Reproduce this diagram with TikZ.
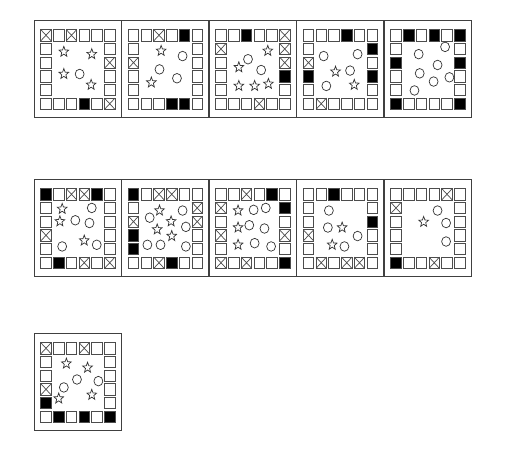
\documentclass[tikz,border=0pt]{standalone}
\tikzset{
  boardframe/.style={draw=black!75,line width=1pt},
  boxcell/.style={draw=black!70,line width=0.7pt},
  figline/.style={draw=black!80,line width=0.7pt,fill=white},
}
\newcommand{\board}{%
  \draw[boardframe] (0,0) rectangle (6.86,7.08);
  \foreach \i in {0,...,5} {
    \draw[boxcell] (\i+0.53,0.63) rectangle ++(0.82,0.82);
    \draw[boxcell] (\i+0.53,5.63) rectangle ++(0.82,0.82);
  }
  \foreach \j in {1,...,4} {
    \draw[boxcell] (0.53,\j+0.63) rectangle ++(0.82,0.82);
    \draw[boxcell] (5.53,\j+0.63) rectangle ++(0.82,0.82);
  }
}
\newcommand{\xcell}[2]{\draw[boxcell] (#1+0.53,#2+0.63) -- ++(0.82,0.82) (#1+1.35,#2+0.63) -- ++(-0.82,0.82);}
\newcommand{\bcell}[2]{\filldraw[boxcell,fill=black] (#1+0.53,#2+0.63) rectangle ++(0.82,0.82);}
\newcommand{\pcirc}[2]{\draw[figline] (#1+0.94,#2+1.04) circle (0.35);}
\newcommand{\pstar}[2]{\draw[figline,shift={(#1+0.94,#2+1.04)}] (-90:0.40)
  \foreach \k in {0,...,4} { -- ({-54+72*\k}:0.17) -- ({-18+72*\k}:0.40) } -- cycle;}
\begin{document}
\begin{tikzpicture}[x=1pt,y=-1pt]
\fill[white] (0,0) rectangle (525,470);
\useasboundingbox (0,0) rectangle (525,470);

\begin{scope}[shift={(34,21)},x=12.75pt,y=-13.7pt]
\board
\xcell{0}{0} \xcell{2}{0} \xcell{5}{2} \xcell{5}{5}
\bcell{3}{5}
\pstar{1.40}{1.21} \pstar{3.59}{1.38} \pstar{1.40}{2.83} \pstar{3.54}{3.62}
\pcirc{2.64}{2.83}
\end{scope}

\begin{scope}[shift={(121.5,21)},x=12.75pt,y=-13.7pt]
\board
\xcell{2}{0} \xcell{0}{2}
\bcell{4}{0} \bcell{3}{5} \bcell{4}{5}
\pstar{2.17}{1.14} \pstar{1.40}{3.45}
\pcirc{3.85}{1.52} \pcirc{2.04}{2.49} \pcirc{3.41}{3.14}
\end{scope}

\begin{scope}[shift={(209,21)},x=12.75pt,y=-13.7pt]
\board
\xcell{5}{0} \xcell{0}{1} \xcell{5}{1} \xcell{5}{2} \xcell{3}{5}
\bcell{2}{0} \bcell{5}{3}
\pstar{3.67}{1.14} \pstar{1.40}{2.34} \pstar{1.40}{3.70} \pstar{2.64}{3.70} \pstar{3.72}{3.55}
\pcirc{2.12}{1.75} \pcirc{3.15}{2.54}
\end{scope}

\begin{scope}[shift={(296.5,21)},x=12.75pt,y=-13.7pt]
\board
\xcell{0}{2} \xcell{1}{5}
\bcell{3}{0} \bcell{5}{1} \bcell{0}{3} \bcell{5}{3}
\pcirc{1.19}{1.52} \pcirc{3.85}{1.38} \pcirc{3.26}{2.58} \pcirc{1.40}{3.70}
\pstar{2.12}{2.66} \pstar{3.59}{3.62}
\end{scope}

\begin{scope}[shift={(384,21)},x=12.75pt,y=-13.7pt]
\board
\bcell{1}{0} \bcell{3}{0} \bcell{5}{0} \bcell{0}{2} \bcell{5}{2} \bcell{0}{5} \bcell{5}{5}
\pcirc{1.78}{1.38} \pcirc{3.85}{0.85} \pcirc{3.26}{2.17} \pcirc{1.86}{2.78}
\pcirc{2.95}{3.38} \pcirc{4.19}{3.07} \pcirc{1.45}{4.03}
\end{scope}

\begin{scope}[shift={(34,180)},x=12.75pt,y=-13.7pt]
\board
\xcell{2}{0} \xcell{3}{0} \xcell{0}{3} \xcell{3}{5} \xcell{5}{5}
\bcell{0}{0} \bcell{4}{0} \bcell{1}{5}
\pstar{1.27}{1.07} \pstar{1.09}{1.98} \pstar{3.0}{3.38}
\pcirc{3.59}{1.0} \pcirc{2.30}{1.90} \pcirc{3.41}{2.10} \pcirc{1.27}{3.81} \pcirc{3.98}{3.69}
\end{scope}

\begin{scope}[shift={(121.5,180)},x=12.75pt,y=-13.7pt]
\board
\xcell{2}{0} \xcell{3}{0} \xcell{0}{2} \xcell{5}{1} \xcell{5}{2} \xcell{2}{5}
\bcell{0}{0} \bcell{0}{3} \bcell{0}{4} \bcell{3}{5}
\pstar{2.04}{1.19} \pstar{2.95}{1.98} \pstar{1.86}{2.57} \pstar{3.0}{3.05}
\pcirc{1.27}{1.71} \pcirc{3.85}{1.19} \pcirc{4.11}{2.38} \pcirc{1.09}{3.69}
\pcirc{2.12}{3.69} \pcirc{4.11}{3.81}
\end{scope}

\begin{scope}[shift={(209,180)},x=12.75pt,y=-13.7pt]
\board
\xcell{2}{0} \xcell{0}{1} \xcell{0}{3} \xcell{5}{3} \xcell{0}{5} \xcell{2}{5}
\bcell{4}{0} \bcell{5}{1} \bcell{5}{5}
\pstar{1.34}{1.19} \pstar{1.34}{2.43} \pstar{1.34}{3.69}
\pcirc{2.56}{1.14} \pcirc{3.51}{1.0} \pcirc{2.22}{2.26} \pcirc{3.41}{2.5}
\pcirc{2.64}{3.57} \pcirc{3.93}{3.81}
\end{scope}

\begin{scope}[shift={(296.5,180)},x=12.75pt,y=-13.7pt]
\board
\xcell{0}{3} \xcell{1}{5} \xcell{3}{5} \xcell{4}{5}
\bcell{2}{0} \bcell{5}{2}
\pcirc{1.60}{1.19} \pcirc{1.52}{2.43} \pcirc{3.85}{3.05} \pcirc{2.82}{3.81}
\pstar{2.64}{2.43} \pstar{1.86}{3.69}
\end{scope}

\begin{scope}[shift={(384,180)},x=12.75pt,y=-13.7pt]
\board
\xcell{4}{0} \xcell{0}{1} \xcell{3}{5}
\bcell{0}{5}
\pcirc{3.26}{1.19} \pcirc{3.93}{2.10} \pcirc{3.93}{3.45}
\pstar{2.17}{2.02}
\end{scope}

\begin{scope}[shift={(34,334)},x=12.75pt,y=-13.7pt]
\board
\xcell{0}{0} \xcell{3}{0} \xcell{0}{3}
\bcell{0}{4} \bcell{1}{5} \bcell{3}{5} \bcell{5}{5}
\pstar{1.60}{1.12} \pstar{3.26}{1.42} \pstar{1.0}{3.67} \pstar{3.59}{3.40}
\pcirc{2.43}{2.28} \pcirc{1.40}{2.86} \pcirc{4.11}{2.40}
\end{scope}
\end{tikzpicture}
\end{document}
